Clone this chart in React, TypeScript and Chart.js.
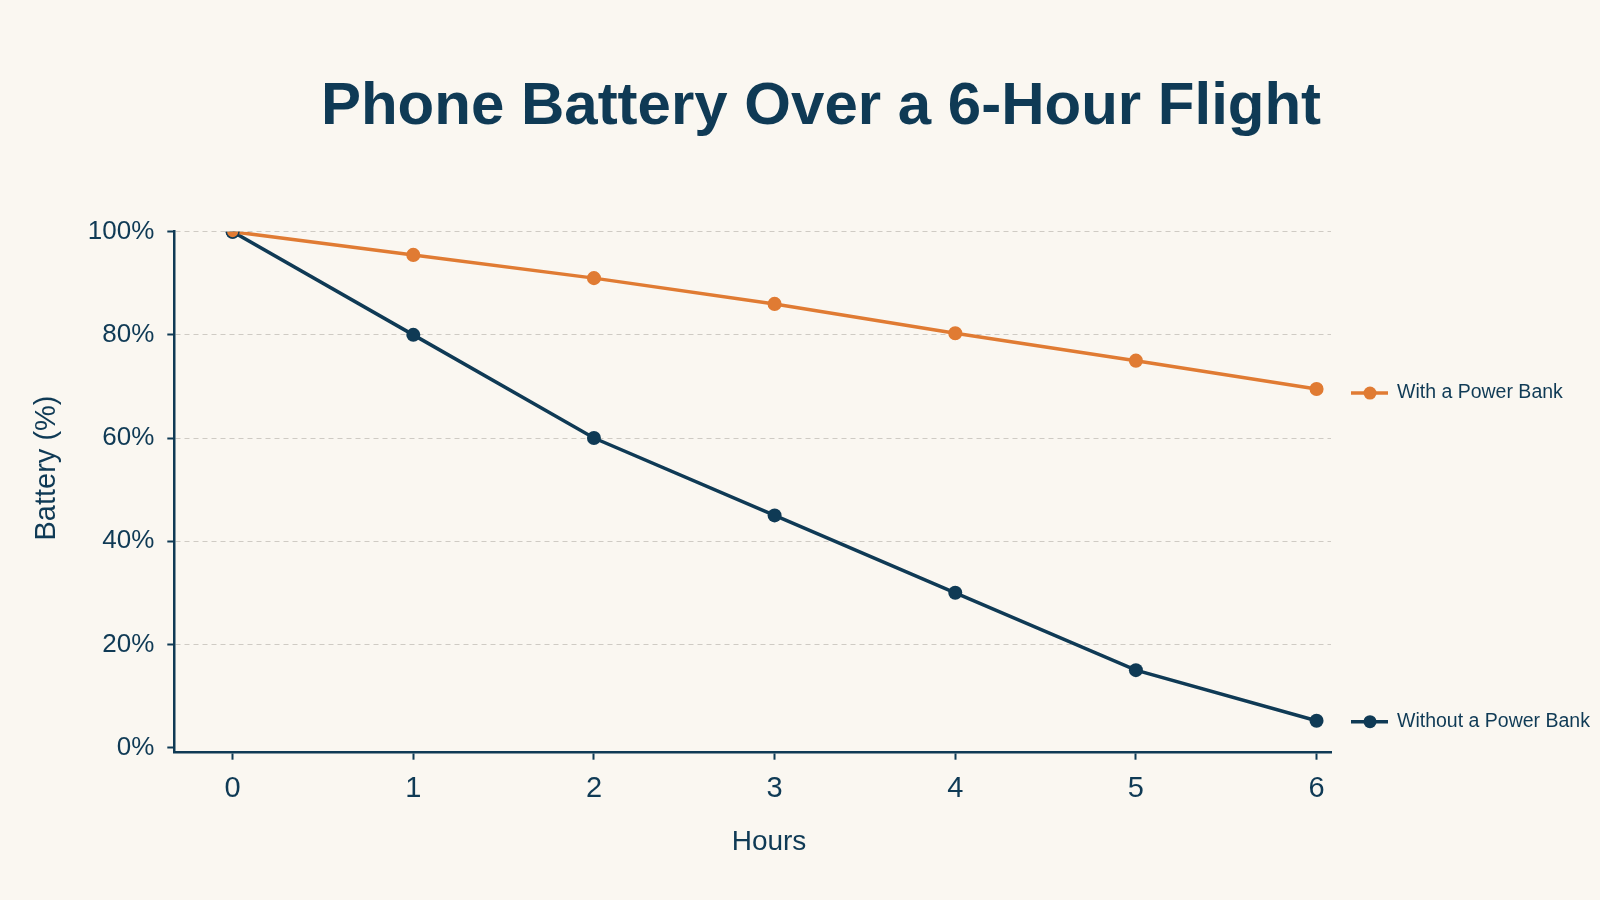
import React, { useEffect, useRef } from "react";
import { Chart, registerables } from "chart.js";

Chart.register(...registerables);

const hours = [0, 1, 2, 3, 4, 5, 6];
const withPowerBank = [100, 95.5, 91, 86, 80.3, 75, 69.5];
const withoutPowerBank = [100, 80, 60, 45, 30, 15, 5.2];
const yTicks = [0, 20, 40, 60, 80, 100];
const xTicks = [0, 1, 2, 3, 4, 5, 6];
const seriesNames = ["With a Power Bank", "Without a Power Bank"];
const titleText = "Phone Battery Over a 6-Hour Flight";
const xTitle = "Hours";
const yTitle = "Battery (%)";

const NAVY = "#0f3a55";
const ORANGE = "#e07b33";
const BG = "#faf7f1";
const GRID = "#cfcbc4";
const FONT = '"Liberation Sans", Arial, Helvetica, sans-serif';

const decorPlugin = {
  id: "decor",
  beforeDraw(chart: any) {
    const { ctx, width, height } = chart;
    ctx.save();
    ctx.fillStyle = BG;
    ctx.fillRect(0, 0, width, height);
    ctx.restore();
  },
  afterDraw(chart: any) {
    const ctx = chart.ctx;
    const xs = chart.scales.x;
    const ys = chart.scales.y;
    ctx.save();
    ctx.fillStyle = NAVY;
    // title
    ctx.font = `bold 60px ${FONT}`;
    ctx.textAlign = "center";
    ctx.textBaseline = "alphabetic";
    ctx.fillText(titleText, 821, 124);
    // x title
    ctx.font = `28px ${FONT}`;
    ctx.fillText(xTitle, 769, 850);
    // y title
    ctx.save();
    ctx.translate(55, 468);
    ctx.rotate(-Math.PI / 2);
    ctx.font = `29px ${FONT}`;
    ctx.fillText(yTitle, 0, 0);
    ctx.restore();
    // end labels
    chart.data.datasets.forEach((ds: any, i: number) => {
      const last = ds.data[ds.data.length - 1];
      const py = ys.getPixelForValue(last.y) + (i === 0 ? 4 : 1);
      const x0 = xs.right + 20;
      ctx.strokeStyle = ds.borderColor;
      ctx.lineWidth = 3.5;
      ctx.beginPath();
      ctx.moveTo(x0, py);
      ctx.lineTo(x0 + 37, py);
      ctx.stroke();
      ctx.fillStyle = ds.borderColor;
      ctx.beginPath();
      ctx.arc(x0 + 19, py, 6.5, 0, Math.PI * 2);
      ctx.fill();
      ctx.fillStyle = NAVY;
      ctx.font = `19.5px ${FONT}`;
      ctx.textAlign = "left";
      ctx.textBaseline = "middle";
      ctx.fillText(ds.label, x0 + 46, py);
    });
    ctx.restore();
  },
};

export default function App() {
  const ref = useRef<HTMLCanvasElement | null>(null);

  useEffect(() => {
    if (!ref.current) return;
    const chart = new Chart(ref.current, {
      type: "line",
      data: {
        datasets: [
          {
            label: seriesNames[0],
            data: hours.map((h, i) => ({ x: h, y: withPowerBank[i] })),
            borderColor: ORANGE,
            backgroundColor: ORANGE,
            borderWidth: 3.5,
            pointRadius: 6.3,
            pointBorderWidth: 1.5,
            pointBackgroundColor: ORANGE,
            pointBorderColor: hours.map((_, i) => (i === 0 ? NAVY : ORANGE)),
            tension: 0,
          },
          {
            label: seriesNames[1],
            data: hours.map((h, i) => ({ x: h, y: withoutPowerBank[i] })),
            borderColor: NAVY,
            backgroundColor: NAVY,
            borderWidth: 3.5,
            pointRadius: 7,
            pointBorderWidth: 0,
            pointBackgroundColor: NAVY,
            tension: 0,
          },
        ],
      },
      options: {
        animation: false,
        responsive: false,
        devicePixelRatio: 1,
        layout: { padding: { top: 231.7, left: 0, right: 269, bottom: 0 } },
        plugins: {
          legend: { display: false },
          title: { display: false },
          tooltip: { enabled: false },
        },
        scales: {
          x: {
            type: "linear",
            min: -0.323,
            max: 6.08,
            afterBuildTicks: (s: any) => {
              s.ticks = xTicks.map((v) => ({ value: v }));
            },
            afterFit: (s: any) => {
              s.height = 147.3;
            },
            grid: {
              drawOnChartArea: false,
              drawTicks: true,
              tickLength: 7,
              tickColor: NAVY,
              tickWidth: 2,
            },
            border: { display: true, color: NAVY, width: 2.5 },
            ticks: {
              color: NAVY,
              font: { family: FONT, size: 29 },
              padding: 12,
              maxRotation: 0,
              autoSkip: false,
            },
          },
          y: {
            type: "linear",
            min: -1,
            max: 100,
            afterBuildTicks: (s: any) => {
              s.ticks = yTicks.map((v) => ({ value: v }));
            },
            afterFit: (s: any) => {
              s.width = 174.3;
            },
            grid: {
              color: (c: any) => (c.tick && c.tick.value === 0 ? "rgba(0,0,0,0)" : GRID),
              lineWidth: 1,
              drawTicks: true,
              tickLength: 7,
              tickColor: NAVY,
              tickWidth: 2,
            },
            border: { display: true, color: NAVY, width: 2.5, dash: [5, 4] },
            ticks: {
              color: NAVY,
              font: { family: FONT, size: 26 },
              padding: 13,
              autoSkip: false,
              callback: (v: any) => `${v}%`,
            },
          },
        },
      },
      plugins: [decorPlugin],
    });
    return () => chart.destroy();
  }, []);

  return (
    <div style={{ position: "absolute", left: 0, top: 0, width: 1600, height: 900, background: BG }}>
      <canvas ref={ref} width={1600} height={900} style={{ display: "block", width: 1600, height: 900 }} />
    </div>
  );
}
